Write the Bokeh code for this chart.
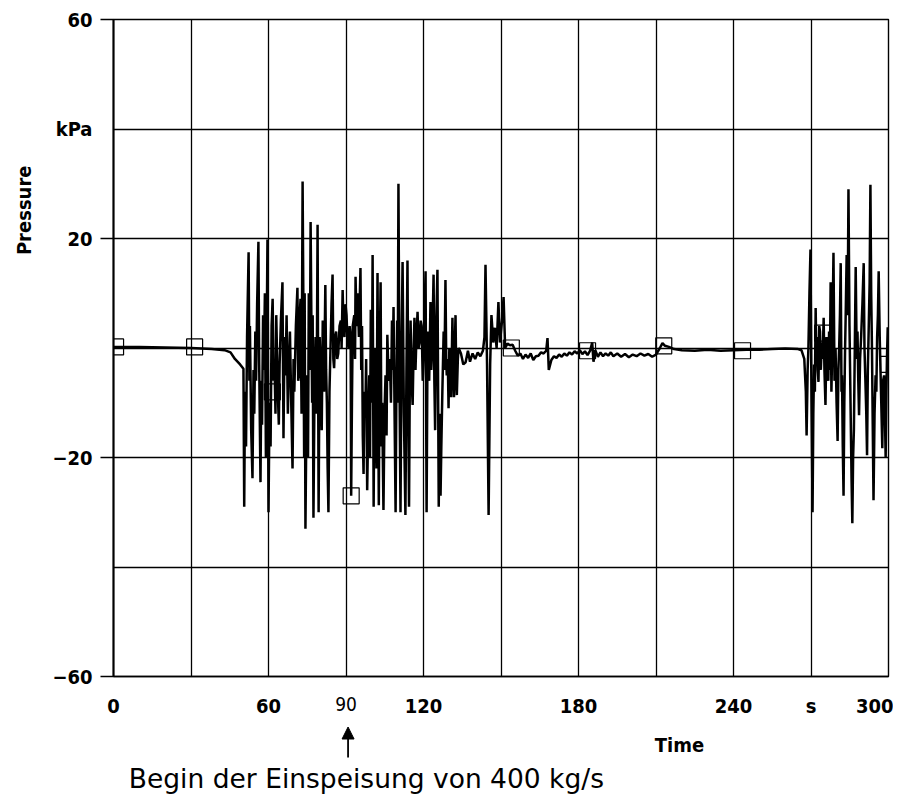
import math
from bokeh.plotting import figure
from bokeh.layouts import column
from bokeh.models import Range1d, FixedTicker, Label, Arrow, NormalHead, LinearAxis, Title
from bokeh.embed import file_html
from bokeh.resources import INLINE

# ---- data: (time s, pressure kPa) ----
quiet_start = [(0, 0.2), (10, 0.2), (20, 0.1), (30, 0.0), (38, -0.2), (43, -0.4),
               (45.3, -0.8), (47, -2.0), (49, -3.0), (50.3, -3.8)]

burst_1 = [(50.6, -29), (50.9, -8), (51.3, -18), (51.7, 2), (52.3, 17.5), (52.6, -6),
           (52.8, 4), (53.3, -15), (53.8, -23.8), (54.2, -4), (54.5, -12), (54.9, 3),
           (55.2, -6), (55.6, 8), (56.1, 19.4), (56.4, -3), (56.9, -24.5), (57.2, -6),
           (57.5, -14), (57.9, 6), (58.2, -4), (58.6, 10), (59.0, -20), (59.3, 2),
           (59.6, 19.8), (60.0, -30), (60.4, -10), (60.8, -18), (61.2, 4), (61.6, 9),
           (62.0, -6), (62.3, -2), (62.7, -12), (63.0, 6), (63.6, -8), (64.0, -14),
           (64.3, -3), (64.8, 5), (65.4, 12), (65.8, -16.5), (66.2, 2), (66.6, -5),
           (67.0, 6), (67.5, -12), (67.9, -3), (68.3, 3), (68.8, -10), (69.3, -22),
           (69.7, -2), (70.0, -8), (70.6, 4), (71.2, 11), (71.5, -6), (71.8, -5),
           (72.1, 6), (72.4, 9), (72.8, -12), (73.2, 30.4), (73.5, 8), (73.8, -20),
           (74.0, 10), (74.3, -33), (74.7, -12), (75.0, -5), (75.3, -20), (75.6, 10),
           (76.0, -4), (76.3, 23), (76.6, 5), (76.9, -10), (77.1, 6), (77.4, -31),
           (77.8, -8), (78.2, 2), (78.6, -12), (79.0, 22.5), (79.4, -30), (79.8, 2),
           (80.3, -5), (80.6, -15), (81.0, 5), (81.5, -8), (82.0, 11.5), (82.3, -4),
           (82.6, -10), (82.9, -22), (83.2, -30), (83.6, -8), (84.0, 0), (84.4, 8),
           (84.8, 13.4), (85.1, -2), (85.4, -3.7), (85.8, 2), (86.2, 3), (86.6, -2),
           (87.0, -1), (87.5, 4), (88.0, 5), (88.3, 0), (88.7, 10.6), (89.0, 4),
           (89.4, 2), (89.8, 8), (90.2, 6), (90.6, 1), (91.0, 0), (91.4, 4), (91.8, 2)]

burst_2 = [(92.0, -27), (92.3, -10), (92.6, 4), (93.2, 6), (93.5, -2), (93.7, 13),
           (94.1, 4), (94.5, 10), (95.0, 2), (95.6, 14.6), (95.9, -4), (96.2, 4),
           (96.5, -16), (96.8, -23), (97.1, -8), (97.5, -12), (97.8, -2), (98.2, -26),
           (98.6, -14), (99.0, -5), (99.3, -20), (99.6, 7), (100.0, -10), (100.3, 17),
           (100.7, -29), (101.0, -6), (101.4, 0), (101.8, -22), (102.2, 13.7), (102.7, -28.7),
           (103.0, -4), (103.4, 12), (103.7, -18), (104.0, -10), (104.5, -29.6), (104.9, -12),
           (105.3, -5), (105.7, -16), (106.0, 2.4), (106.5, -6), (107.0, -2), (107.4, -10),
           (107.8, 5), (108.1, -4), (108.4, 7.5), (108.8, -12), (109.2, -30), (109.5, -8),
           (109.8, 5), (110.0, -10), (110.3, 30), (110.7, -6), (111.1, -30), (111.5, 0),
           (111.9, 15.7), (112.4, -12), (113.0, -30.5), (113.4, -4), (113.8, 16), (114.1, -10),
           (114.4, -29), (114.7, -6), (115.0, 5), (115.4, -6), (115.8, -10.4), (116.1, -2),
           (116.5, 5.5), (116.9, -4), (117.2, 1), (117.7, 6.6), (118.1, 0), (118.5, 1),
           (118.9, 5), (119.3, 4), (119.7, -6), (120.0, -2), (120.4, 6), (120.8, 14),
           (121.2, -30), (121.5, -4), (121.8, 3), (122.2, -6), (122.7, 8.4), (123.0, -4),
           (123.2, -2), (123.6, 6), (123.9, 13.4), (124.2, -6), (124.5, -15), (124.9, 4),
           (125.4, 14.3), (125.9, -29), (126.2, -12), (126.6, -27), (126.9, -18), (127.3, -8),
           (127.8, 3), (128.1, -4), (128.5, 12.4), (128.8, -2), (129.0, -5), (129.4, -2),
           (129.7, -11), (130.0, 0), (130.3, -3), (130.7, -9), (131.2, 5.5), (131.5, -4),
           (131.8, -9), (132.1, 0), (132.4, 6), (132.7, -6), (132.9, -8.6), (133.3, -2),
           (133.6, 0)]

decay = [(134.5, -1.0), (135.4, -3.0), (136.3, -2.6), (137.2, -0.5), (138.0, -2.5),
         (139.0, -1.0), (140.0, -2.0), (141.0, -0.8), (142.0, -1.5), (143.0, -0.5),
         (143.6, 2.0), (144.0, 15.2), (144.6, -3.0), (145.2, -30.5), (145.8, -3.0),
         (146.3, 6.0), (147.0, 1.0), (147.6, 3.7), (148.3, 0.0), (149.0, 8.4),
         (149.6, 1.0), (150.4, 5.0), (151.0, 9.3), (151.6, 0.0)]

quiet_middle = [(152.5, 0.8), (153.5, 0.5), (154.5, 0.6), (155.5, -0.5), (156.5, -1.4),
                (157.5, -1.0), (158.5, -2.0), (159.5, -1.2), (160.5, -1.8), (161.5, -1.0),
                (162.5, -2.2), (163.5, -1.5), (164.5, -1.4), (165.5, -0.8), (166.5, -1.0),
                (167.5, -0.5), (168.0, 1.8), (168.5, -4.0), (169.5, -2.2), (170.5, -1.5),
                (171.5, -1.8), (172.5, -1.2), (173.5, -1.6), (174.5, -1.0), (175.5, -1.4),
                (176.5, -0.8), (177.5, -1.2), (178.5, -0.6), (179.5, -1.0), (180.5, -0.4),
                (181.5, -1.1), (182.5, -0.6), (183.5, -1.3), (184.5, -0.5), (185.3, 1.0),
                (185.8, -2.5), (186.5, -0.4), (187.5, -1.6), (188.5, -0.8), (189.5, -1.5),
                (190.5, -1.0), (191.5, -1.4), (192.5, -0.8), (193.5, -1.5), (195.0, -1.0),
                (196.5, -1.6), (198.0, -1.1), (199.5, -1.7), (201.0, -1.2), (202.5, -1.5),
                (204.0, -1.0), (205.5, -1.4), (207.0, -1.1), (208.5, -1.6), (210.0, -1.2),
                (211.5, 0.0), (212.5, 0.9), (213.5, 0.4), (215.0, 0.2), (217.0, -0.2),
                (220.0, -0.4), (225.0, -0.5), (230.0, -0.3), (235.0, -0.5), (240.0, -0.4),
                (245.0, -0.3), (250.0, -0.3), (255.0, -0.2), (260.0, -0.1), (265.0, -0.2),
                (266.3, -0.4), (267.4, -2.0)]

burst_3 = [(268.0, -8), (268.3, -16), (268.7, -4), (269.0, 0), (269.4, 10), (269.8, 18),
           (270.2, -10), (270.6, -30), (270.9, -12), (271.2, -3), (271.5, -8), (271.8, 7.3),
           (272.1, -2), (272.3, 2), (272.6, -4), (272.9, -6.2), (273.2, 4), (273.5, 3),
           (273.8, -4), (274.2, 1), (274.5, -2), (274.9, 5.5), (275.2, -4), (275.6, -10.4),
           (276.0, 2), (276.4, 0), (276.7, -6), (277.0, 3), (277.3, -4), (277.6, 12),
           (277.9, -8), (278.1, -3), (278.4, 6), (278.7, 17.4), (279.1, -6), (279.5, 0),
           (279.9, -10), (280.3, -17), (280.6, -4), (280.9, 0), (281.2, 6), (281.5, 15.5),
           (281.8, -8), (282.0, -5), (282.3, -18), (282.6, -27), (282.9, -10), (283.2, 0),
           (283.5, 8), (283.8, 17), (284.2, 6), (284.5, 29), (284.9, 4), (285.3, -10),
           (285.7, -24), (286.0, -32), (286.3, -20), (286.6, -15), (287.0, 2), (287.3, 14.8),
           (287.7, -2), (288.0, 3), (288.3, -6), (288.6, -12.3), (289.0, -2), (289.4, 2),
           (289.9, 8), (290.4, 15.5), (290.7, 0), (291.0, -5), (291.4, -12), (291.7, -19.6),
           (292.0, -4), (292.4, 5), (292.7, 12), (293.0, 29.8), (293.3, 10), (293.6, 0),
           (293.9, -14), (294.2, -27.8), (294.6, -12), (295.0, -5), (295.3, -8), (295.6, 2),
           (295.9, 6), (296.2, 14), (296.6, 2), (296.9, -4), (297.2, -10), (297.6, -18.3),
           (297.9, -6), (298.3, -5), (298.6, -12), (298.9, -20), (299.2, -8), (299.4, -2),
           (299.7, 3.8), (300.0, -3)]

marker_time = [0.8, 31.4, 61.5, 92.0, 122.5, 154.0, 183.5, 213.0, 243.5, 274.5, 300.0]
marker_pressure = [0.2, 0.2, -8.0, -27.0, 1.0, 0.0, -0.5, 0.4, -0.5, 2.7, -3.0]

x_grid_values = [0, 30, 60, 90, 120, 150, 180, 210, 240, 270, 300]
y_grid_values = [-60, -40, -20, 0, 20, 40, 60]
x_tick_values = [0, 60, 120, 180, 240, 270, 300]
x_tick_overrides = {270: "s"}
x_tick_regular = [90]
y_tick_values = [-60, -20, 20, 40, 60]
y_tick_overrides = {40: "kPa"}
y_tick_marks = [-60, -20, 20, 60]

segments = [quiet_start, burst_1, burst_2, decay, quiet_middle, burst_3]
time_s = [t for seg in segments for t, _ in seg]
pressure_kpa = [v for seg in segments for _, v in seg]

BOLD_FONT = "DejaVu Sans Condensed"
W = 893

p = figure(width=W, height=726,
           x_range=Range1d(0, 300), y_range=Range1d(-60, 60),
           output_backend="svg", toolbar_location=None,
           min_border_left=113, min_border_right=5,
           min_border_top=19, min_border_bottom=50)
p.background_fill_color = "white"
p.border_fill_color = "white"
p.outline_line_color = "black"
p.outline_line_width = 1.4

p.xgrid.ticker = FixedTicker(ticks=x_grid_values)
p.ygrid.ticker = FixedTicker(ticks=y_grid_values)
for g in (p.xgrid, p.ygrid):
    g.grid_line_color = "black"
    g.grid_line_width = 1.3
    g.grid_line_alpha = 1.0

xa = p.xaxis[0]
xa.ticker = FixedTicker(ticks=x_tick_values)
xa.major_label_overrides = x_tick_overrides
xa.major_tick_out = 0
xa.major_tick_in = 0
xa.minor_tick_out = 0
xa.minor_tick_in = 0
xa.axis_line_color = "black"
xa.axis_line_width = 1.6
xa.major_label_standoff = 17
xa.major_label_text_font = BOLD_FONT
xa.major_label_text_font_style = "bold"
xa.major_label_text_font_size = "20px"
xa.major_label_text_color = "black"

ax90 = LinearAxis(ticker=FixedTicker(ticks=x_tick_regular),
                  axis_line_color=None, major_tick_line_color=None,
                  minor_tick_line_color=None, major_tick_out=0, major_tick_in=0,
                  minor_tick_out=0, minor_tick_in=0,
                  major_label_standoff=-24,
                  major_label_text_font="DejaVu Sans Condensed",
                  major_label_text_font_size="19px",
                  major_label_text_color="black")
p.add_layout(ax90, "below")

ya = p.yaxis[0]
ya.ticker = FixedTicker(ticks=y_tick_values, minor_ticks=y_tick_marks)
ya.major_label_overrides = y_tick_overrides
ya.major_tick_out = 0
ya.major_tick_in = 0
ya.minor_tick_out = 13
ya.minor_tick_in = 0
ya.minor_tick_line_color = "black"
ya.minor_tick_line_width = 1.4
ya.axis_line_color = "black"
ya.axis_line_width = 2
ya.major_label_standoff = 8
ya.major_label_text_font = BOLD_FONT
ya.major_label_text_font_style = "bold"
ya.major_label_text_font_size = "20px"
ya.major_label_text_color = "black"

p.add_layout(Title(text="Pressure", align="right", offset=146, standoff=23,
                   vertical_align="top", text_font=BOLD_FONT, text_font_style="bold",
                   text_font_size="20px", text_color="black"), "left")

p.line(time_s, pressure_kpa, line_color="black", line_width=2.5)
p.scatter(marker_time, marker_pressure, marker="square", size=16,
          fill_color=None, line_color="black", line_width=1.2)

# ---- strip below the chart: arrow, axis name and note ----
q = figure(width=W, height=68, x_range=p.x_range, y_range=Range1d(0, 68),
           x_axis_location=None, y_axis_location=None,
           output_backend="svg", toolbar_location=None,
           min_border_left=113, min_border_right=5, min_border_top=0, min_border_bottom=0)
q.outline_line_color = None
q.background_fill_color = "white"
q.border_fill_color = "white"
q.xgrid.grid_line_color = None
q.ygrid.grid_line_color = None

q.add_layout(Label(x=219.1, y=50, text="Time", text_font=BOLD_FONT,
                   text_font_style="bold", text_font_size="20px",
                   text_align="center", text_baseline="middle", text_color="black"))
q.add_layout(Label(x=97.9, y=16, text="Begin der Einspeisung von 400 kg/s",
                   text_font="DejaVu Sans", text_font_size="26.5px",
                   text_align="center", text_baseline="alphabetic", text_color="black"))
q.add_layout(Arrow(end=NormalHead(size=12, fill_color="black", line_color="black"),
                   x_start=90.8, y_start=37, x_end=90.8, y_end=67.5,
                   line_color="black", line_width=1.8))

layout = column(p, q, spacing=0)
open("out.html", "w").write(file_html(layout, INLINE))
